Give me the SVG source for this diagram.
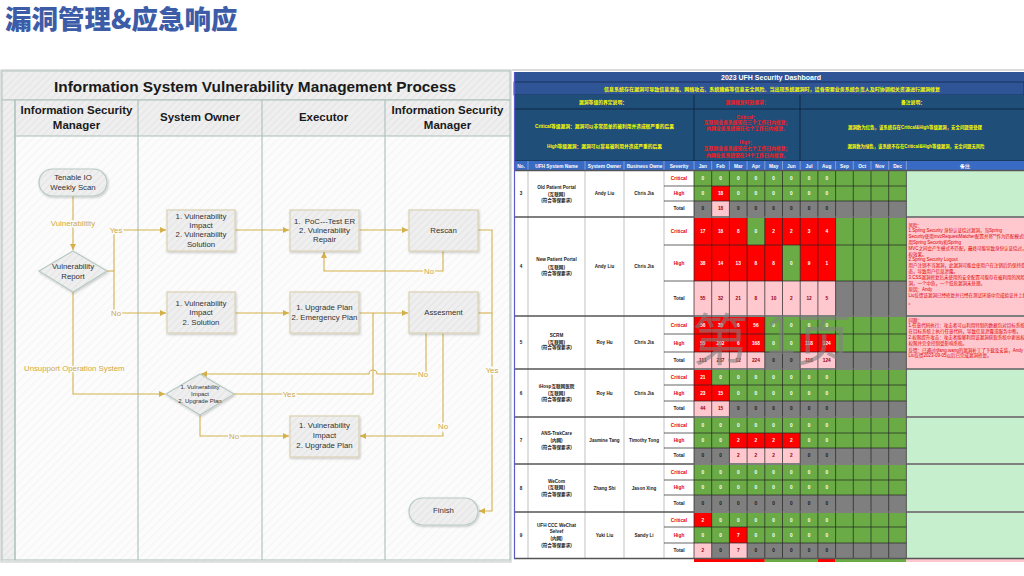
<svg xmlns="http://www.w3.org/2000/svg" width="1024" height="576" viewBox="0 0 1024 576">
<defs>
<pattern id="hatch" width="5" height="5" patternUnits="userSpaceOnUse" patternTransform="rotate(45)">
<rect width="5" height="5" fill="#efefef"/><rect width="1.4" height="5" fill="#e6e6e6"/>
</pattern>
<pattern id="hatchL" width="6" height="6" patternUnits="userSpaceOnUse" patternTransform="rotate(45)">
<rect width="6" height="6" fill="#fcfcfc"/><rect width="1.4" height="6" fill="#f6f6f6"/>
</pattern>
<marker id="arr" viewBox="0 0 10 10" refX="10" refY="5" markerWidth="7" markerHeight="6" markerUnits="userSpaceOnUse" orient="auto">
<path d="M0,0 L10,5 L0,10 z" fill="#d4b04a"/>
</marker>
<filter id="sh" x="-10%" y="-10%" width="130%" height="140%">
<feDropShadow dx="0.8" dy="1.2" stdDeviation="0.8" flood-color="#000" flood-opacity="0.22"/>
</filter>
</defs>
<style>
.f{font-family:"Liberation Sans",Arial,sans-serif}
.hd{font-family:"Liberation Sans",Arial,sans-serif;font-weight:bold;font-size:11.5px;fill:#1a1a1a;text-anchor:middle}
.nt{font-family:"Liberation Sans",Arial,sans-serif;font-size:7.8px;fill:#333;text-anchor:middle}
.box{fill:url(#hatch);stroke:#d9d2b2;stroke-width:1.2;filter:url(#sh)}
.pill{fill:url(#hatch);stroke:#b8cac4;stroke-width:1.2;filter:url(#sh)}
.ln{fill:none;stroke:#d4b04a;stroke-width:1.1}
.lb{font-family:"Liberation Sans",Arial,sans-serif;font-size:7.8px;fill:#cfa93f;text-anchor:middle;stroke:#fbfbfb;stroke-width:3;paint-order:stroke}
.lane{stroke:#aabfba;stroke-width:1.1}
.db{font-family:"Liberation Sans","Noto Sans CJK SC",sans-serif;font-size:4.6px;font-weight:bold;text-anchor:middle;fill:#222}
.v{font-family:"Liberation Sans",sans-serif;font-size:4.8px;font-weight:bold;text-anchor:middle}
.w{fill:#fff}.k{fill:#1a1a1a}.p{fill:#9c0006}
.G{fill:#6aab46}.R{fill:#ff0000}.P{fill:#ffc7ce}.Y{fill:#7f7f7f}.LG{fill:#c6efce}
.yl{font-family:"Liberation Sans","Noto Sans CJK SC",sans-serif;font-size:4.8px;font-weight:bold;fill:#ffff00;text-anchor:middle}
.rd{font-family:"Liberation Sans","Noto Sans CJK SC",sans-serif;font-size:4.8px;font-weight:bold;fill:#ff1a1a;text-anchor:middle}
.rm{font-family:"Liberation Sans","Noto Sans CJK SC",sans-serif;font-size:4.5px;fill:#e00000}
.hw{font-family:"Liberation Sans",sans-serif;font-size:4.8px;font-weight:bold;fill:#fff;text-anchor:middle}
.sev{font-family:"Liberation Sans",sans-serif;font-size:4.8px;font-weight:bold;text-anchor:middle}
</style>

<rect width="1024" height="576" fill="#fff"/>

<text x="5" y="28.5" font-family="'Noto Sans CJK SC',sans-serif" font-weight="900" font-size="26.5" fill="#3d5ca8">漏洞管理&amp;应急响应</text>

<!-- ============ LEFT FLOWCHART ============ -->
<g id="swimlanes">
<rect x="1" y="70" width="510" height="492" fill="url(#hatchL)" stroke="#c4c4c4"/>
<rect x="2" y="71" width="508" height="29" fill="url(#hatch)" stroke="#b3c3bf"/>
<rect x="15" y="100" width="495" height="36" fill="url(#hatch)"/>
<rect x="2" y="100" width="13" height="460" fill="url(#hatch)" stroke="#b3c3bf"/>
<line class="lane" x1="15" y1="100" x2="510" y2="100"/>
<line class="lane" x1="15" y1="136" x2="510" y2="136"/>
<line class="lane" x1="15" y1="560" x2="510" y2="560"/>
<line class="lane" x1="15" y1="100" x2="15" y2="560"/>
<line class="lane" x1="138" y1="100" x2="138" y2="560"/>
<line class="lane" x1="262" y1="100" x2="262" y2="560"/>
<line class="lane" x1="385" y1="100" x2="385" y2="560"/>
<line class="lane" x1="510" y1="100" x2="510" y2="560"/>
<text x="255" y="91.5" class="f" font-weight="bold" font-size="15" fill="#1a1a1a" text-anchor="middle" textLength="402" lengthAdjust="spacingAndGlyphs">Information System Vulnerability Management Process</text>
<text class="hd" x="76.5" y="114">Information Security</text>
<text class="hd" x="76.5" y="128.8">Manager</text>
<text class="hd" x="200" y="121.4">System Owner</text>
<text class="hd" x="323.5" y="121.4">Executor</text>
<text class="hd" x="447.5" y="114">Information Security</text>
<text class="hd" x="447.5" y="128.8">Manager</text>
</g>

<g id="connectors">
<path class="ln" d="M73,196 V250" marker-end="url(#arr)"/>
<text class="lb" x="73" y="225.5">Vulnerablitity</text>
<path class="ln" d="M107,271 H114"/>
<path class="ln" d="M114,230 V313"/>
<path class="ln" d="M114,230 H166" marker-end="url(#arr)"/>
<path class="ln" d="M114,313 H166" marker-end="url(#arr)"/>
<text class="lb" x="116" y="233">Yes</text>
<text class="lb" x="116" y="316">No</text>
<path class="ln" d="M73,292 V394 H165" marker-end="url(#arr)"/>
<text class="lb" x="24" y="371" style="text-anchor:start">Unsupport Operation System</text>
<path class="ln" d="M235,230 H289" marker-end="url(#arr)"/>
<path class="ln" d="M359,230 H408" marker-end="url(#arr)"/>
<path class="ln" d="M443,251 V271 H324 V252" marker-end="url(#arr)"/>
<text class="lb" x="429" y="274">No</text>
<path class="ln" d="M478,230 H492 V511 H479" marker-end="url(#arr)"/>
<path class="ln" d="M478,313 H492"/>
<text class="lb" x="492" y="373">Yes</text>
<path class="ln" d="M235,313 H289" marker-end="url(#arr)"/>
<path class="ln" d="M359,313 H408" marker-end="url(#arr)"/>
<path class="ln" d="M373,313 V394 H234"/>
<text class="lb" x="289" y="397">Yes</text>
<path class="ln" d="M426,333 V374 H377 A4,4 0 0 0 369,374 H201" marker-end="url(#arr)"/>
<text class="lb" x="423" y="377">No</text>
<path class="ln" d="M443,333 V436 H360" marker-end="url(#arr)"/>
<text class="lb" x="443" y="429">No</text>
<path class="ln" d="M200,415 V436 H289" marker-end="url(#arr)"/>
<text class="lb" x="234" y="439">No</text>
</g>

<g id="n-scan">
<rect class="pill" x="39" y="169" width="68" height="27" rx="13.5"/>
<text class="nt" x="73" y="179.5">Tenable IO</text>
<text class="nt" x="73" y="189.5">Weekly Scan</text>
</g>
<g id="n-report">
<polygon class="pill" points="73,251 107,271 73,292 39,271"/>
<text class="nt" x="73" y="268.8">Vulnerability</text>
<text class="nt" x="73" y="278.5">Report</text>
</g>
<g id="n-impact-solution">
<rect class="box" x="167" y="210" width="68" height="41"/>
<text class="nt" x="201" y="218.5">1. Vulnerability</text>
<text class="nt" x="201" y="227.5">Impact</text>
<text class="nt" x="201" y="237.1">2. Vulnerability</text>
<text class="nt" x="201" y="246.5">Solution</text>
</g>
<g id="n-impact-solution2">
<rect class="box" x="167" y="292" width="68" height="41"/>
<text class="nt" x="201" y="305.5">1. Vulnerability</text>
<text class="nt" x="201" y="315.1">Impact</text>
<text class="nt" x="201" y="324.5">2. Solution</text>
</g>
<g id="n-unsupported">
<polygon class="pill" points="200,374 234,394 200,415 166,394"/>
<text class="nt" x="200" y="388.8" style="font-size:6px">1. Vulnerability</text>
<text class="nt" x="200" y="396.1" style="font-size:6px">Impact</text>
<text class="nt" x="200" y="403.1" style="font-size:6px">2. Upgrade Plan</text>
</g>
<g id="n-poc">
<rect class="box" x="290" y="210" width="69" height="41"/>
<text class="nt" x="324.5" y="223.5" xml:space="preserve">1.  PoC---Test ER</text>
<text class="nt" x="324.5" y="232.8">2. Vulnerability</text>
<text class="nt" x="324.5" y="241.8">Repair</text>
</g>
<g id="n-upgrade">
<rect class="box" x="290" y="292" width="69" height="41"/>
<text class="nt" x="324.5" y="309.5">1. Upgrade Plan</text>
<text class="nt" x="324.5" y="319.5">2. Emergency Plan</text>
</g>
<g id="n-impact-upgrade">
<rect class="box" x="290" y="416" width="69" height="41"/>
<text class="nt" x="324.5" y="427.8">1. Vulnerability</text>
<text class="nt" x="324.5" y="437.8">Impact</text>
<text class="nt" x="324.5" y="447.5">2. Upgrade Plan</text>
</g>
<g id="n-rescan">
<rect class="box" x="409" y="210" width="69" height="41"/>
<text class="nt" x="443.5" y="232.8">Rescan</text>
</g>
<g id="n-assesment">
<rect class="box" x="409" y="292" width="69" height="41"/>
<text class="nt" x="443.5" y="315.1">Assesment</text>
</g>
<g id="n-finish">
<rect class="pill" x="409" y="498" width="69" height="27" rx="13.5"/>
<text class="nt" x="443.5" y="513.1">Finish</text>
</g>

<!-- ============ RIGHT DASHBOARD ============ -->
<g id="dashboard">
<rect x="512" y="69" width="512" height="494" fill="#fff"/>
<line x1="512" y1="70" x2="1024" y2="70" stroke="#cfcfcf" stroke-width="1.5"/>
<rect x="514" y="72" width="510" height="10" fill="#2f5597"/>
<text x="771" y="80" class="f" font-weight="bold" font-size="7" fill="#fff" text-anchor="middle">2023 UFH Security Dashboard</text>
<rect x="514" y="82" width="510" height="13" fill="#2f5597" stroke="#12284f" stroke-width="0.8"/>
<text class="yl" x="772" y="91" textLength="336" lengthAdjust="spacingAndGlyphs">信息系统存在漏洞可导致信息泄露、网络攻击、系统瘫痪等信息安全风险。当出现系统漏洞时，请各需要业务系统负责人及时协调相关资源进行漏洞修复</text>
<rect x="514" y="95" width="510" height="66" fill="#1f4e79"/>
<g stroke="#0f2540" stroke-width="0.9">
<line x1="514" y1="109" x2="1024" y2="109"/>
<line x1="514" y1="161" x2="1024" y2="161"/>
<line x1="694" y1="95" x2="694" y2="161"/>
<line x1="800" y1="95" x2="800" y2="161"/>
</g>
<text class="yl" x="603" y="104">漏洞等级的界定说明：</text>
<text class="rd" x="747" y="104">漏洞修复时效要求：</text>
<text class="yl" x="913" y="104">备注说明：</text>
<text class="yl" x="604.5" y="128" textLength="139" lengthAdjust="spacingAndGlyphs">Critical等级漏洞：漏洞可以非常简单的被利用并造成很严重的后果</text>
<text class="yl" x="604.5" y="148" textLength="115" lengthAdjust="spacingAndGlyphs">High等级漏洞：漏洞可以容易被利用并造成严重的后果</text>
<text class="rd" x="747" y="118.7">Critical：</text>
<text class="rd" x="747" y="124.3">互联网业务系统需在三个工作日内修复；</text>
<text class="rd" x="747" y="130.3">内网业务系统需在七个工作日内修复。</text>
<text class="rd" x="747" y="144.3">High：</text>
<text class="rd" x="747" y="150.3">互联网业务系统需在七个工作日内修复；</text>
<text class="rd" x="747" y="157">内网业务系统需在14个工作日内修复。</text>
<text class="yl" x="915" y="129" textLength="134" lengthAdjust="spacingAndGlyphs">漏洞数为红色，该系统存在Critical&amp;High等级漏洞，安全问题需处理</text>
<text class="yl" x="916" y="148" textLength="137" lengthAdjust="spacingAndGlyphs">漏洞数为绿色，该系统不存在Critical&amp;High等级漏洞，安全问题无风险</text>

<!-- column header -->
<rect x="514" y="161" width="510" height="9" fill="#3a6bc4"/>
<g stroke="#a9c0e8" stroke-width="0.6">
<line x1="528" y1="161" x2="528" y2="170"/><line x1="585" y1="161" x2="585" y2="170"/><line x1="624" y1="161" x2="624" y2="170"/><line x1="664" y1="161" x2="664" y2="170"/><line x1="694" y1="161" x2="694" y2="170"/>
<line x1="711.7" y1="161" x2="711.7" y2="170"/><line x1="729.4" y1="161" x2="729.4" y2="170"/><line x1="747.1" y1="161" x2="747.1" y2="170"/><line x1="764.8" y1="161" x2="764.8" y2="170"/><line x1="782.5" y1="161" x2="782.5" y2="170"/><line x1="800.2" y1="161" x2="800.2" y2="170"/><line x1="817.9" y1="161" x2="817.9" y2="170"/><line x1="835.6" y1="161" x2="835.6" y2="170"/><line x1="853.3" y1="161" x2="853.3" y2="170"/><line x1="871" y1="161" x2="871" y2="170"/><line x1="888.7" y1="161" x2="888.7" y2="170"/><line x1="906.4" y1="161" x2="906.4" y2="170"/>
</g>
<text class="hw" y="167.7"><tspan x="521">No.</tspan><tspan x="556.5">UFH System Name</tspan><tspan x="604.5">System Owner</tspan><tspan x="644.5">Business Owne</tspan><tspan x="679">Severity</tspan><tspan x="702.85">Jan</tspan><tspan x="720.55">Feb</tspan><tspan x="738.25">Mar</tspan><tspan x="755.95">Apr</tspan><tspan x="773.65">May</tspan><tspan x="791.35">Jun</tspan><tspan x="809.05">Jul</tspan><tspan x="826.75">Aug</tspan><tspan x="844.45">Sep</tspan><tspan x="862.15">Oct</tspan><tspan x="879.85">Nov</tspan><tspan x="897.55">Dec</tspan><tspan x="965">备注</tspan></text>

<!-- body backgrounds -->
<rect x="514" y="170" width="180" height="389" fill="#fff"/>
<rect class="G" x="694" y="171" width="212.4" height="30"/><rect class="Y" x="694" y="201" width="212.4" height="15"/>
<rect class="R" x="711.7" y="186" width="17.7" height="15"/><rect class="P" x="711.7" y="201" width="17.7" height="15"/>
<rect class="LG" x="906.4" y="171" width="118" height="45"/>
<rect class="G" x="694" y="218" width="212.4" height="63"/><rect class="Y" x="694" y="281" width="212.4" height="34"/>
<rect class="R" x="694" y="218" width="53.1" height="27"/><rect class="R" x="764.8" y="218" width="70.8" height="27"/>
<rect class="R" x="694" y="245" width="88.5" height="36"/><rect class="R" x="800.2" y="245" width="35.4" height="36"/>
<rect class="P" x="694" y="281" width="141.6" height="34"/>
<rect class="P" x="906.4" y="218" width="118" height="97"/>
<rect class="G" x="694" y="317" width="212.4" height="35"/><rect class="Y" x="694" y="352" width="212.4" height="16"/>
<rect class="R" x="694" y="317" width="70.8" height="17"/>
<rect class="R" x="694" y="334" width="70.8" height="18"/><rect class="R" x="800.2" y="334" width="35.4" height="18"/>
<rect class="P" x="694" y="352" width="70.8" height="16"/><rect class="P" x="800.2" y="352" width="35.4" height="16"/>
<rect class="P" x="906.4" y="317" width="118" height="51"/>
<rect class="G" x="694" y="370" width="212.4" height="31"/><rect class="Y" x="694" y="401" width="212.4" height="15"/>
<rect class="R" x="694" y="370" width="17.7" height="15"/><rect class="R" x="694" y="385" width="35.4" height="16"/>
<rect class="P" x="694" y="401" width="35.4" height="15"/>
<rect class="LG" x="906.4" y="370" width="118" height="46"/>
<rect class="G" x="694" y="418" width="212.4" height="30"/><rect class="Y" x="694" y="448" width="212.4" height="15"/>
<rect class="R" x="729.4" y="433" width="70.8" height="15"/><rect class="P" x="729.4" y="448" width="70.8" height="15"/>
<rect class="LG" x="906.4" y="418" width="118" height="45"/>
<rect class="G" x="694" y="465" width="212.4" height="30"/><rect class="Y" x="694" y="495" width="212.4" height="16"/>
<rect class="LG" x="906.4" y="465" width="118" height="46"/>
<rect class="G" x="694" y="513" width="212.4" height="30"/><rect class="Y" x="694" y="543" width="212.4" height="15"/>
<rect class="R" x="694" y="513" width="17.7" height="14"/><rect class="R" x="729.4" y="527" width="17.7" height="16"/>
<rect class="P" x="694" y="543" width="17.7" height="15"/><rect class="P" x="729.4" y="543" width="17.7" height="15"/>
<rect class="LG" x="906.4" y="513" width="118" height="45"/>
<rect class="R" x="694" y="559" width="70.8" height="3"/><rect class="G" x="764.8" y="559" width="53.1" height="3"/><rect class="R" x="817.9" y="559" width="17.7" height="3"/><rect class="G" x="835.6" y="559" width="70.8" height="3"/><rect class="P" x="906.4" y="559" width="118" height="3"/>

<!-- grid -->
<g stroke="#999" stroke-width="0.6">
<line x1="528" y1="170" x2="528" y2="559"/><line x1="585" y1="170" x2="585" y2="559"/><line x1="624" y1="170" x2="624" y2="559"/><line x1="664" y1="170" x2="664" y2="559"/>
</g>
<g stroke="#222" stroke-width="0.7">
<line x1="694" y1="170" x2="694" y2="559"/><line x1="711.7" y1="170" x2="711.7" y2="559"/><line x1="729.4" y1="170" x2="729.4" y2="559"/><line x1="747.1" y1="170" x2="747.1" y2="559"/><line x1="764.8" y1="170" x2="764.8" y2="559"/><line x1="782.5" y1="170" x2="782.5" y2="559"/><line x1="800.2" y1="170" x2="800.2" y2="559"/><line x1="817.9" y1="170" x2="817.9" y2="559"/><line x1="835.6" y1="170" x2="835.6" y2="559"/><line x1="853.3" y1="170" x2="853.3" y2="559"/><line x1="871" y1="170" x2="871" y2="559"/><line x1="888.7" y1="170" x2="888.7" y2="559"/><line x1="906.4" y1="170" x2="906.4" y2="559"/>
<line x1="664" y1="186" x2="906.4" y2="186"/><line x1="664" y1="201" x2="906.4" y2="201"/>
<line x1="664" y1="245" x2="906.4" y2="245"/><line x1="664" y1="281" x2="906.4" y2="281"/>
<line x1="664" y1="334" x2="906.4" y2="334"/><line x1="664" y1="352" x2="906.4" y2="352"/>
<line x1="664" y1="385" x2="906.4" y2="385"/><line x1="664" y1="401" x2="906.4" y2="401"/>
<line x1="664" y1="433" x2="906.4" y2="433"/><line x1="664" y1="448" x2="906.4" y2="448"/>
<line x1="664" y1="480" x2="906.4" y2="480"/><line x1="664" y1="495" x2="906.4" y2="495"/>
<line x1="664" y1="527" x2="906.4" y2="527"/><line x1="664" y1="543" x2="906.4" y2="543"/>
</g>
<g stroke="#555" stroke-width="1.6">
<line x1="514" y1="170.5" x2="1024" y2="170.5"/><line x1="514" y1="217" x2="1024" y2="217"/><line x1="514" y1="316" x2="1024" y2="316"/><line x1="514" y1="369" x2="1024" y2="369"/><line x1="514" y1="417" x2="1024" y2="417"/><line x1="514" y1="464" x2="1024" y2="464"/><line x1="514" y1="512" x2="1024" y2="512"/><line x1="514" y1="558.5" x2="1024" y2="558.5"/>
</g>
<line x1="514.5" y1="72" x2="514.5" y2="559" stroke="#5b5bc8" stroke-width="1.2"/>

<!-- left column texts -->
<g class="db">
<text x="521" y="195.2">3</text><text x="521" y="268.2">4</text><text x="521" y="344.2">5</text><text x="521" y="394.7">6</text><text x="521" y="442.2">7</text><text x="521" y="489.7">8</text><text x="521" y="537.2">9</text>
<text x="556.5" y="189">Old Patient Portal</text><text x="556.5" y="195.5">(互联网)</text><text x="556.5" y="202">(符合等保要求)</text>
<text x="556.5" y="261">New Patient Portal</text><text x="556.5" y="268.5">(互联网)</text><text x="556.5" y="275">(符合等保要求)</text>
<text x="556.5" y="337">SCRM</text><text x="556.5" y="343.5">(互联网)</text><text x="556.5" y="349">(符合等保要求)</text>
<text x="556.5" y="388">iHosp互联网医院</text><text x="556.5" y="395">(互联网)</text><text x="556.5" y="401">(符合等保要求)</text>
<text x="556.5" y="435">ANS-TrakCare</text><text x="556.5" y="442">(内网)</text><text x="556.5" y="448.5">(符合等保要求)</text>
<text x="556.5" y="482.5">WeCom</text><text x="556.5" y="489">(互联网)</text><text x="556.5" y="496">(符合等保要求)</text>
<text x="556.5" y="527">UFH CCC WeChat</text><text x="556.5" y="532.5">Selvef</text><text x="556.5" y="540">(内网)</text><text x="556.5" y="546.5">(符合等保要求)</text>
<text x="604.5" y="195.2">Andy Liu</text><text x="644" y="195.2">Chris Jia</text>
<text x="604.5" y="268.2">Andy Liu</text><text x="644" y="268.2">Chris Jia</text>
<text x="604.5" y="344.2">Roy Hu</text><text x="644" y="344.2">Chris Jia</text>
<text x="604.5" y="394.7">Roy Hu</text><text x="644" y="394.7">Chris Jia</text>
<text x="604.5" y="442.2">Jasmine Tang</text><text x="644" y="442.2">Timothy Tong</text>
<text x="604.5" y="489.7">Zhang Shi</text><text x="644" y="489.7">Jason Xing</text>
<text x="604.5" y="537.2">Yuki Liu</text><text x="644" y="537.2">Sandy Li</text>
</g>
<g class="sev">
<text x="679" y="180.3" fill="#e00000">Critical</text><text x="679" y="195.3" fill="#e00000">High</text><text x="679" y="210.3" fill="#222">Total</text>
<text x="679" y="233.3" fill="#e00000">Critical</text><text x="679" y="264.8" fill="#e00000">High</text><text x="679" y="299.8" fill="#222">Total</text>
<text x="679" y="327.3" fill="#e00000">Critical</text><text x="679" y="344.8" fill="#e00000">High</text><text x="679" y="361.8" fill="#222">Total</text>
<text x="679" y="379.3" fill="#e00000">Critical</text><text x="679" y="394.8" fill="#e00000">High</text><text x="679" y="410.3" fill="#222">Total</text>
<text x="679" y="427.3" fill="#e00000">Critical</text><text x="679" y="442.3" fill="#e00000">High</text><text x="679" y="457.3" fill="#222">Total</text>
<text x="679" y="474.3" fill="#e00000">Critical</text><text x="679" y="489.3" fill="#e00000">High</text><text x="679" y="504.8" fill="#222">Total</text>
<text x="679" y="521.8" fill="#e00000">Critical</text><text x="679" y="536.8" fill="#e00000">High</text><text x="679" y="552.3" fill="#222">Total</text>
</g>

<!-- values -->
<g class="v">
<text class="w" y="180.3"><tspan x="702.85">0</tspan><tspan x="720.55">0</tspan><tspan x="738.25">0</tspan><tspan x="755.95">0</tspan><tspan x="773.65">0</tspan><tspan x="791.35">0</tspan><tspan x="809.05">0</tspan><tspan x="826.75">0</tspan></text>
<text class="w" y="195.3"><tspan x="702.85">0</tspan><tspan x="720.55">18</tspan><tspan x="738.25">0</tspan><tspan x="755.95">0</tspan><tspan x="773.65">0</tspan><tspan x="791.35">0</tspan><tspan x="809.05">0</tspan><tspan x="826.75">0</tspan></text>
<text class="k" y="210.3"><tspan x="702.85">0</tspan><tspan x="720.55" class="p">18</tspan><tspan x="738.25">0</tspan><tspan x="755.95">0</tspan><tspan x="773.65">0</tspan><tspan x="791.35">0</tspan><tspan x="809.05">0</tspan><tspan x="826.75">0</tspan></text>

<text class="w" y="233.3"><tspan x="702.85">17</tspan><tspan x="720.55">18</tspan><tspan x="738.25">8</tspan><tspan x="755.95">0</tspan><tspan x="773.65">2</tspan><tspan x="791.35">2</tspan><tspan x="809.05">3</tspan><tspan x="826.75">4</tspan></text>
<text class="w" y="264.8"><tspan x="702.85">38</tspan><tspan x="720.55">14</tspan><tspan x="738.25">13</tspan><tspan x="755.95">8</tspan><tspan x="773.65">8</tspan><tspan x="791.35">0</tspan><tspan x="809.05">9</tspan><tspan x="826.75">1</tspan></text>
<text class="p" y="299.8"><tspan x="702.85">55</tspan><tspan x="720.55">32</tspan><tspan x="738.25">21</tspan><tspan x="755.95">8</tspan><tspan x="773.65">10</tspan><tspan x="791.35">2</tspan><tspan x="809.05">12</tspan><tspan x="826.75">5</tspan></text>

<text class="w" y="327.3"><tspan x="702.85">56</tspan><tspan x="720.55">35</tspan><tspan x="738.25">6</tspan><tspan x="755.95">56</tspan><tspan x="773.65">0</tspan><tspan x="791.35">0</tspan><tspan x="809.05">0</tspan><tspan x="826.75">0</tspan></text>
<text class="w" y="344.8"><tspan x="702.85">55</tspan><tspan x="720.55">202</tspan><tspan x="738.25">6</tspan><tspan x="755.95">168</tspan><tspan x="773.65">0</tspan><tspan x="791.35">0</tspan><tspan x="809.05">118</tspan><tspan x="826.75">124</tspan></text>
<text class="p" y="361.8"><tspan x="702.85">111</tspan><tspan x="720.55">237</tspan><tspan x="738.25">12</tspan><tspan x="755.95">224</tspan><tspan x="773.65" class="k">0</tspan><tspan x="791.35" class="k">0</tspan><tspan x="809.05">118</tspan><tspan x="826.75">124</tspan></text>

<text class="w" y="379.3"><tspan x="702.85">21</tspan><tspan x="720.55">0</tspan><tspan x="738.25">0</tspan><tspan x="755.95">0</tspan><tspan x="773.65">0</tspan><tspan x="791.35">0</tspan><tspan x="809.05">0</tspan><tspan x="826.75">0</tspan></text>
<text class="w" y="394.8"><tspan x="702.85">23</tspan><tspan x="720.55">15</tspan><tspan x="738.25">0</tspan><tspan x="755.95">0</tspan><tspan x="773.65">0</tspan><tspan x="791.35">0</tspan><tspan x="809.05">0</tspan><tspan x="826.75">0</tspan></text>
<text class="k" y="410.3"><tspan x="702.85" class="p">44</tspan><tspan x="720.55" class="p">15</tspan><tspan x="738.25">0</tspan><tspan x="755.95">0</tspan><tspan x="773.65">0</tspan><tspan x="791.35">0</tspan><tspan x="809.05">0</tspan><tspan x="826.75">0</tspan></text>

<text class="w" y="427.3"><tspan x="702.85">0</tspan><tspan x="720.55">0</tspan><tspan x="738.25">0</tspan><tspan x="755.95">0</tspan><tspan x="773.65">0</tspan><tspan x="791.35">0</tspan><tspan x="809.05">0</tspan><tspan x="826.75">0</tspan></text>
<text class="w" y="442.3"><tspan x="702.85">0</tspan><tspan x="720.55">0</tspan><tspan x="738.25">2</tspan><tspan x="755.95">2</tspan><tspan x="773.65">2</tspan><tspan x="791.35">2</tspan><tspan x="809.05">0</tspan><tspan x="826.75">0</tspan></text>
<text class="k" y="457.3"><tspan x="702.85">0</tspan><tspan x="720.55">0</tspan><tspan x="738.25" class="p">2</tspan><tspan x="755.95" class="p">2</tspan><tspan x="773.65" class="p">2</tspan><tspan x="791.35" class="p">2</tspan><tspan x="809.05">0</tspan><tspan x="826.75">0</tspan></text>

<text class="w" y="474.3"><tspan x="702.85">0</tspan><tspan x="720.55">0</tspan><tspan x="738.25">0</tspan><tspan x="755.95">0</tspan><tspan x="773.65">0</tspan><tspan x="791.35">0</tspan><tspan x="809.05">0</tspan><tspan x="826.75">0</tspan></text>
<text class="w" y="489.3"><tspan x="702.85">0</tspan><tspan x="720.55">0</tspan><tspan x="738.25">0</tspan><tspan x="755.95">0</tspan><tspan x="773.65">0</tspan><tspan x="791.35">0</tspan><tspan x="809.05">0</tspan><tspan x="826.75">0</tspan></text>
<text class="k" y="504.8"><tspan x="702.85">0</tspan><tspan x="720.55">0</tspan><tspan x="738.25">0</tspan><tspan x="755.95">0</tspan><tspan x="773.65">0</tspan><tspan x="791.35">0</tspan><tspan x="809.05">0</tspan><tspan x="826.75">0</tspan></text>

<text class="w" y="521.8"><tspan x="702.85">2</tspan><tspan x="720.55">0</tspan><tspan x="738.25">0</tspan><tspan x="755.95">0</tspan><tspan x="773.65">0</tspan><tspan x="791.35">0</tspan><tspan x="809.05">0</tspan><tspan x="826.75">0</tspan></text>
<text class="w" y="536.8"><tspan x="702.85">0</tspan><tspan x="720.55">0</tspan><tspan x="738.25">7</tspan><tspan x="755.95">0</tspan><tspan x="773.65">0</tspan><tspan x="791.35">0</tspan><tspan x="809.05">0</tspan><tspan x="826.75">0</tspan></text>
<text class="k" y="552.3"><tspan x="702.85" class="p">2</tspan><tspan x="720.55">0</tspan><tspan x="738.25" class="p">7</tspan><tspan x="755.95">0</tspan><tspan x="773.65">0</tspan><tspan x="791.35">0</tspan><tspan x="809.05">0</tspan><tspan x="826.75">0</tspan></text>
</g>

<!-- remarks -->
<g class="rm">
<text x="908.5" y="226.5">风险：</text>
<text x="908.5" y="232.3">1.Spring Security 身份认证绕过漏洞，当Spring</text>
<text x="908.5" y="238.1">Security使用mvcRequestMatcher配置并将**作为匹配模式时，</text>
<text x="908.5" y="243.9">用Spring Security和Spring</text>
<text x="908.5" y="249.7">MVC之间会产生模式不匹配，最终可能导致身份认证绕过，造成越</text>
<text x="908.5" y="255.5">权效果。</text>
<text x="908.5" y="261.3">2.Spring Security Logout</text>
<text x="908.5" y="267.1">用户注销不当漏洞，此漏洞可能会使用户在注销后仍保持登录状</text>
<text x="908.5" y="272.9">态，导致用户信息泄露。</text>
<text x="908.5" y="278.7">3.CSS漏洞修复后未使用的安全配置可能存在被利用的风险，剩余一个漏</text>
<text x="908.5" y="284.5">洞，一个中危，一个低危漏洞未处理。</text>
<text x="908.5" y="291.3">原因：Andy</text>
<text x="908.5" y="297.1">Liu反馈该漏洞已经修复并已经在测试环境中完成验证并上线</text>
<text x="908.5" y="303.5">。</text>
<text x="908.5" y="321.5">问题：</text>
<text x="908.5" y="327.3">1.任意代码执行：攻击者可以利用特制的数据包对目标系统进行攻击，</text>
<text x="908.5" y="333.1">在目标系统上执行任意代码，导致信息泄露或服务中断。</text>
<text x="908.5" y="338.9">2.权限提升攻击：攻击者能够利用该漏洞获取系统中更高权限的访问</text>
<text x="908.5" y="344.7">权限并完全控制受影响系统。</text>
<text x="908.5" y="351.5">反馈：已通过rjfang.wang的漏洞补丁了下载及安装，Andy</text>
<text x="908.5" y="357.3">Liu反馈2023-09-05以后已完成漏洞修复。</text>
</g>

<!-- watermark -->
<g font-family="'Noto Sans CJK SC',sans-serif" font-size="56" fill="#808080" opacity="0.6">
<text x="692" y="360">第</text>
<text x="765" y="354" font-family="'Liberation Sans',sans-serif">1</text>
<text x="796" y="360">页</text>
</g>
</g>
</svg>
